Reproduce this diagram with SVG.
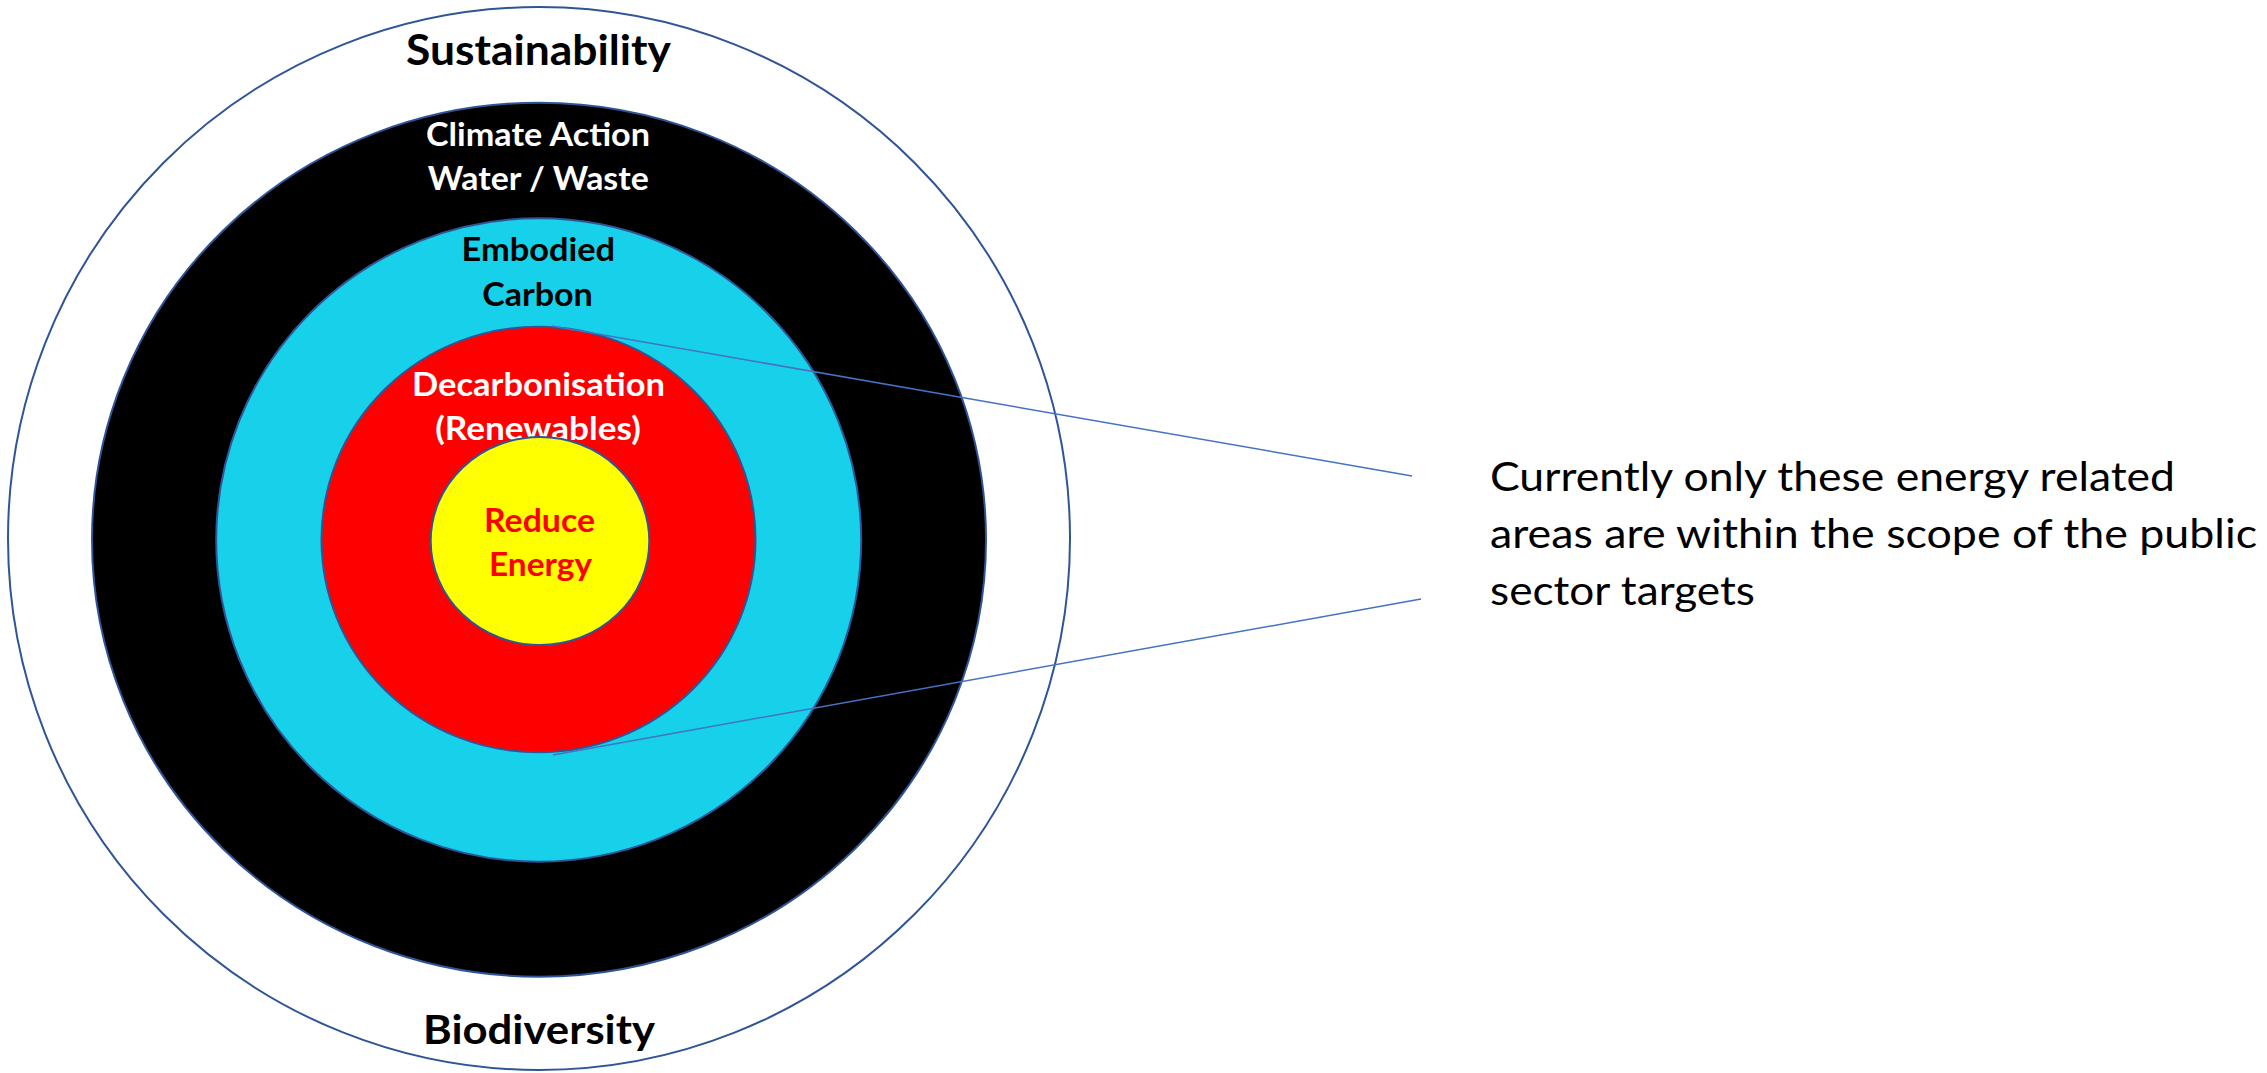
<svg xmlns="http://www.w3.org/2000/svg" width="2267" height="1073" viewBox="0 0 2267 1073">
<style>
.ring{stroke:#2F5597;stroke-width:2}
.lb{font-family:Lato,"Liberation Sans",sans-serif;font-weight:700;text-anchor:middle}
.note{font-family:Lato,"Liberation Sans",sans-serif;font-weight:400;font-size:41.5px;fill:#000}
.conn{stroke:#4472C4;stroke-width:1.5;fill:none}
</style>
<rect width="2267" height="1073" fill="#fff"/>
<g id="sustainability">
<ellipse class="ring" cx="539" cy="538.5" rx="531" ry="531.5" fill="#fff" stroke-width="2.5"/>
<text class="lb" x="538.5" y="64.5" font-size="41.5" fill="#000" textLength="265" lengthAdjust="spacingAndGlyphs">Sustainability</text>
<text class="lb" x="539" y="1043.5" font-size="41" fill="#000" textLength="232" lengthAdjust="spacingAndGlyphs">Biodiversity</text>
</g>
<g id="climate">
<ellipse class="ring" cx="539" cy="539.7" rx="447" ry="437" fill="#000"/>
<text class="lb" x="538" y="145.7" font-size="32.3" fill="#fff" textLength="224" lengthAdjust="spacingAndGlyphs">Climate Action</text>
<text class="lb" x="538.3" y="190" font-size="32.3" fill="#fff" textLength="221" lengthAdjust="spacingAndGlyphs">Water / Waste</text>
</g>
<g id="embodied">
<ellipse class="ring" cx="538.7" cy="540" rx="322.5" ry="321.7" fill="#16D1E9"/>
<text class="lb" x="538.3" y="261" font-size="32.3" fill="#000" textLength="153.5" lengthAdjust="spacingAndGlyphs">Embodied</text>
<text class="lb" x="537.5" y="306" font-size="32.3" fill="#000" textLength="110.7" lengthAdjust="spacingAndGlyphs">Carbon</text>
</g>
<g id="decarbonisation">
<ellipse class="ring" cx="538.5" cy="539.5" rx="217" ry="212.8" fill="#FF0000"/>
<text class="lb" x="538.5" y="396" font-size="32.3" fill="#fff" textLength="253" lengthAdjust="spacingAndGlyphs">Decarbonisation</text>
<text class="lb" x="538" y="440" font-size="32.3" fill="#fff" textLength="205.7" lengthAdjust="spacingAndGlyphs">(Renewables)</text>
</g>
<g id="reduce">
<ellipse class="ring" cx="540" cy="541" rx="109.3" ry="104" fill="#FFFF00"/>
<text class="lb" x="539.5" y="531.7" font-size="32.3" fill="#FF0000" textLength="111" lengthAdjust="spacingAndGlyphs">Reduce</text>
<text class="lb" x="540.5" y="576" font-size="32.3" fill="#FF0000" textLength="103" lengthAdjust="spacingAndGlyphs">Energy</text>
</g>
<g id="connectors">
<line class="conn" x1="552" y1="326" x2="1412" y2="476"/>
<line class="conn" x1="553" y1="755" x2="1421" y2="599"/>
</g>
<g id="note">
<text class="note" x="1490" y="490.5" textLength="685" lengthAdjust="spacingAndGlyphs">Currently only these energy related</text>
<text class="note" x="1490" y="548" textLength="767" lengthAdjust="spacingAndGlyphs">areas are within the scope of the public</text>
<text class="note" x="1490" y="605" textLength="265" lengthAdjust="spacingAndGlyphs">sector targets</text>
</g>
</svg>
